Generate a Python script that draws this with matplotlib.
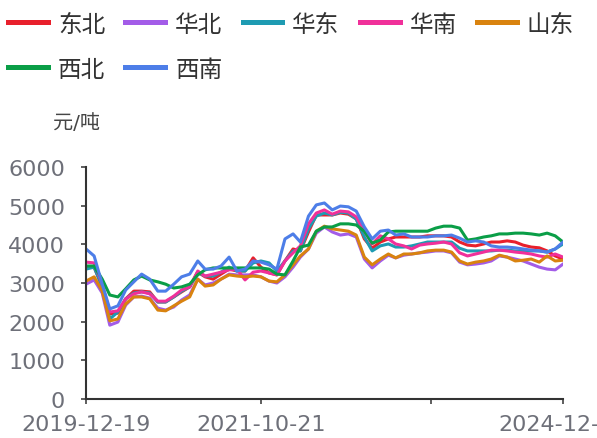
import matplotlib
matplotlib.use('Agg')
import matplotlib.pyplot as plt
import pandas as pd

plt.rcParams['font.family'] = ['DejaVu Sans', 'Noto Sans CJK SC']

# monthly sample points (元/吨)
dates = pd.date_range('2019-12-19', periods=61, freq=pd.DateOffset(months=1))

dongbei = [3410, 3410, 2900, 2200, 2220, 2590, 2790, 2790, 2770, 2510,
           2510, 2640, 2770, 2900, 3280, 3160, 3100, 3230, 3360, 3310,
           3310, 3650, 3410, 3260, 3210, 3570, 3880, 3830, 4320, 4760,
           4760, 4760, 4810, 4780, 4660, 4140, 3900, 4060, 4140, 4190,
           4190, 4190, 4190, 4220, 4220, 4220, 4190, 4060, 3980, 3960,
           4010, 4060, 4060, 4090, 4060, 3980, 3930, 3910, 3830, 3700, 3620]
huabei = [2970, 3080, 2740, 1910, 1990, 2430, 2640, 2660, 2610, 2350,
          2300, 2380, 2560, 2690, 3100, 2950, 3000, 3100, 3230, 3210,
          3210, 3210, 3160, 3050, 3000, 3160, 3410, 3670, 3880, 4290,
          4450, 4320, 4240, 4270, 4190, 3620, 3390, 3570, 3720, 3650,
          3720, 3750, 3780, 3800, 3830, 3830, 3780, 3540, 3470, 3490,
          3520, 3570, 3700, 3670, 3620, 3570, 3490, 3410, 3360, 3340, 3490]
huadong = [3360, 3410, 2900, 2070, 2250, 2590, 2740, 2770, 2740, 2510,
           2510, 2640, 2790, 2900, 3280, 3180, 3180, 3280, 3410, 3310,
           3310, 3520, 3570, 3520, 3310, 3570, 3830, 3830, 4400, 4730,
           4810, 4760, 4830, 4810, 4650, 4190, 3830, 3960, 4010, 3930,
           3930, 3960, 4010, 4060, 4060, 4060, 4060, 3900, 3830, 3830,
           3830, 3830, 3850, 3850, 3830, 3830, 3830, 3830, 3800, 3880, 4010]
huanan = [3540, 3520, 2970, 2250, 2280, 2590, 2720, 2770, 2720, 2530,
          2530, 2660, 2820, 2900, 3310, 3180, 3230, 3280, 3340, 3360,
          3080, 3280, 3310, 3260, 3210, 3570, 3780, 3960, 4530, 4810,
          4890, 4780, 4860, 4840, 4710, 4340, 4010, 4220, 4140, 4010,
          3960, 3880, 3980, 4010, 4030, 4060, 4010, 3780, 3700, 3750,
          3800, 3850, 3850, 3830, 3800, 3780, 3750, 3700, 3670, 3750, 3670]
shandong = [3050, 3160, 2790, 2020, 2070, 2460, 2640, 2640, 2590, 2300,
            2280, 2410, 2530, 2640, 3100, 2920, 2950, 3100, 3210, 3180,
            3160, 3180, 3160, 3050, 3030, 3210, 3470, 3700, 3880, 4340,
            4470, 4400, 4370, 4340, 4240, 3670, 3470, 3620, 3750, 3650,
            3750, 3750, 3780, 3830, 3850, 3850, 3800, 3570, 3490, 3540,
            3570, 3620, 3720, 3670, 3570, 3590, 3620, 3540, 3700, 3570, 3590]
xibei = [3440, 3440, 3100, 2690, 2640, 2850, 3080, 3180, 3080, 3030,
         2970, 2870, 2900, 2970, 3210, 3340, 3390, 3390, 3390, 3390,
         3390, 3390, 3390, 3360, 3230, 3210, 3570, 3930, 3980, 4340,
         4450, 4450, 4530, 4530, 4500, 4340, 4030, 4110, 4320, 4340,
         4340, 4340, 4340, 4340, 4420, 4470, 4470, 4420, 4110, 4140,
         4190, 4220, 4270, 4270, 4290, 4290, 4270, 4240, 4290, 4220, 4060]
xinan = [3880, 3700, 2970, 2330, 2410, 2820, 3030, 3230, 3100, 2790,
         2790, 2970, 3160, 3230, 3570, 3360, 3360, 3440, 3670, 3310,
         3360, 3570, 3540, 3470, 3360, 4140, 4270, 4060, 4730, 5020,
         5070, 4890, 4990, 4970, 4860, 4450, 4140, 4340, 4370, 4240,
         4270, 4190, 4190, 4190, 4220, 4220, 4240, 4160, 4060, 4090,
         4060, 3960, 3930, 3930, 3910, 3880, 3850, 3830, 3800, 3880, 4060]

names = ['东北', '华北', '华东', '华南', '山东', '西北', '西南']
series = [dongbei, huabei, huadong, huanan, shandong, xibei, xinan]
colors = ['#e8202c', '#a35ce8', '#1e9bb2', '#f0309a', '#d9830f', '#0a9e47', '#4d7ee8']

tick_dates = pd.to_datetime(['2019-12-19', '2021-10-21', '2023-08-01', '2024-12-19'])
tick_labels = ['2019-12-19', '2021-10-21', '', '2024-12-19']

fig = plt.figure(figsize=(5.97, 4.39), dpi=100)
ax = fig.add_axes([0.1441, 0.0888, 0.7990, 0.5285])

lines = []
for name, vals, c in zip(names, series, colors):
    ln, = ax.plot(dates, vals, color=c, lw=2.2, label=name, solid_joinstyle='round')
    lines.append(ln)

ax.set_ylim(0, 6000)
ax.set_yticks(range(0, 6001, 1000))
ax.set_xlim(dates[0], dates[-1])
ax.set_xticks(tick_dates)
ax.set_xticklabels(tick_labels)

for side in ['top', 'right']:
    ax.spines[side].set_visible(False)
for side in ['left', 'bottom']:
    ax.spines[side].set_color('#333333')
    ax.spines[side].set_linewidth(1.5)

ax.tick_params(axis='both', color='#333333', length=3.6, width=1.1,
               labelcolor='#6e7079', labelsize=16)
ax.tick_params(axis='y', pad=11.5)
ax.tick_params(axis='x', pad=7)

# unit label above the y axis
fig.text(77 / 597, 1 - 123.5 / 439, '元/吨', ha='center', va='center',
         fontsize=14.5, color='#464646')

# legend fills column-wise, so reorder to read row-wise (5 + 2)
order = [0, 5, 1, 6, 2, 3, 4]
leg = fig.legend([lines[i] for i in order], [names[i] for i in order],
                 loc='upper left', bbox_to_anchor=(8.3 / 597, 1 - 12.5 / 439),
                 ncol=5, frameon=False, fontsize=17, labelcolor='#333333',
                 handlelength=1.69, handletextpad=0.42, columnspacing=0.85,
                 labelspacing=0.9, borderpad=0, borderaxespad=0)
for h in leg.legend_handles:
    h.set_linewidth(3.6)

fig.savefig('out.png', dpi=100)
